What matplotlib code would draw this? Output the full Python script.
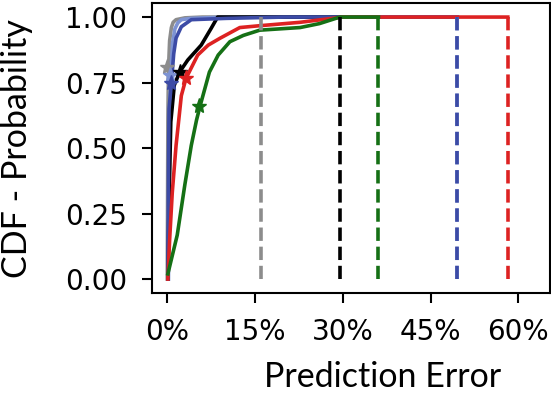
import matplotlib.pyplot as plt
from matplotlib.ticker import PercentFormatter

# prediction error (%) vs cumulative probability
gray_x = [0.0, 0.05, 0.1, 0.2, 0.4, 0.7, 1.0, 1.5, 3.0, 6.0, 16.0]
gray_y = [0.0, 0.30, 0.60, 0.80, 0.91, 0.96, 0.98, 0.99, 0.997, 1.0, 1.0]

lblue_x = [0.2, 0.3, 0.4, 0.6, 0.9, 1.3, 1.8, 2.4, 4.0, 10.0, 49.6]
lblue_y = [0.0, 0.30, 0.60, 0.78, 0.90, 0.955, 0.978, 0.99, 0.995, 1.0, 1.0]

black_x = [0.1, 0.3, 0.6, 1.2, 2.1, 3.5, 5.8, 7.5, 8.6, 29.5]
black_y = [0.0, 0.30, 0.60, 0.74, 0.79, 0.836, 0.893, 0.957, 1.0, 1.0]

blue_x = [0.1, 0.2, 0.3, 0.7, 1.1, 1.5, 2.4, 4.1, 10.0, 20.0, 49.6]
blue_y = [0.0, 0.40, 0.65, 0.747, 0.86, 0.92, 0.963, 0.99, 0.995, 1.0, 1.0]

red_x = [0.1, 0.4, 0.85, 1.5, 2.4, 3.2, 5.2, 7.0, 9.0, 12.4, 15.8, 22.7, 30.0, 58.2]
red_y = [0.0, 0.15, 0.33, 0.51, 0.70, 0.766, 0.855, 0.893, 0.919, 0.96, 0.967, 0.98, 1.0, 1.0]

green_x = [0.1, 1.7, 3.0, 4.1, 5.0, 5.6, 7.2, 8.7, 10.7, 13.0, 15.8, 22.7, 26.0, 29.5, 36.1]
green_y = [0.02, 0.168, 0.36, 0.51, 0.607, 0.66, 0.79, 0.855, 0.906, 0.93, 0.95, 0.96, 0.975, 1.0, 1.0]

# star markers (mean error)
star_x = [0.0, 0.5, 2.1, 0.7, 3.2, 5.5]
star_y = [0.81, 0.78, 0.79, 0.747, 0.766, 0.66]

colors = ['#8c8c8c', '#7d93d3', 'black', '#3c4ba6', '#dd2222', '#157015']
series = [(gray_x, gray_y), (lblue_x, lblue_y), (black_x, black_y),
          (blue_x, blue_y), (red_x, red_y), (green_x, green_y)]

fig = plt.figure(figsize=(5.51, 3.97), dpi=100)
ax = fig.add_axes([0.276, 0.262, 0.722, 0.730])

for (xs, ys), c in zip(series, colors):
    ax.plot(xs, ys, color=c, lw=2.6)
for (xs, ys), c in zip(series, colors):
    ax.plot([xs[-1], xs[-1]], [1.0, 0.0], color=c, lw=2.6, ls='--')
for sx, sy, c in zip(star_x, star_y, colors):
    ax.plot(sx, sy, marker='*', color=c, ms=11)

ax.set_xlim(-2.6, 65.4)
ax.set_ylim(-0.053, 1.053)
ax.set_xticks([0, 15, 30, 45, 60])
ax.set_yticks([0, 0.25, 0.5, 0.75, 1.0])
ax.xaxis.set_major_formatter(PercentFormatter(decimals=0))
ax.yaxis.set_major_formatter(lambda v, p: f'{v:.2f}')
ax.tick_params(labelsize=20, length=7, width=1.5, pad=11)
for s in ax.spines.values():
    s.set_linewidth(1.5)

ax.set_xlabel('Prediction Error', fontsize=24.5, family='Lato')
ax.set_ylabel('CDF - Probability', fontsize=24.5, family='Lato')
ax.xaxis.set_label_coords(0.58, -0.235)
ax.yaxis.set_label_coords(-0.30, 0.5)

fig.savefig('out.png', dpi=100)
